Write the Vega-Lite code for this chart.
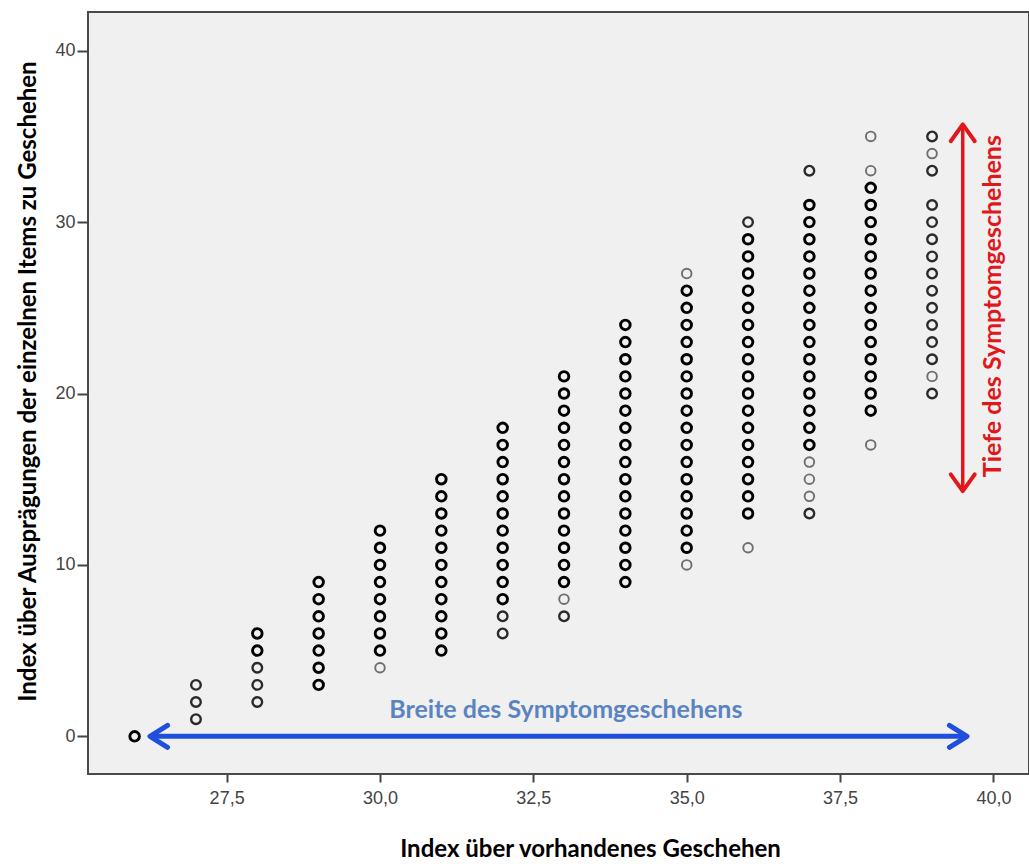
{
  "$schema": "https://vega.github.io/schema/vega-lite/v6.json",
  "width": 941,
  "height": 762,
  "autosize": {"type": "none"},
  "padding": {"left": 88, "top": 12, "right": 0, "bottom": 90},
  "background": "white",
  "config": {"view": {"fill": "#f0f0f0", "stroke": "#4a4a4a", "strokeWidth": 2}},
  "datasets": {
    "points": [
      {"x": 26, "y": 0, "n": 3},
      {"x": 27, "y": 1, "n": 2}, {"x": 27, "y": 2, "n": 2}, {"x": 27, "y": 3, "n": 2},
      {"x": 28, "y": 2, "n": 2}, {"x": 28, "y": 3, "n": 2}, {"x": 28, "y": 4, "n": 2}, {"x": 28, "y": 5, "n": 3}, {"x": 28, "y": 6, "n": 3},
      {"x": 29, "y": 3, "n": 3}, {"x": 29, "y": 4, "n": 3}, {"x": 29, "y": 5, "n": 3}, {"x": 29, "y": 6, "n": 3}, {"x": 29, "y": 7, "n": 3}, {"x": 29, "y": 8, "n": 3}, {"x": 29, "y": 9, "n": 3},
      {"x": 30, "y": 4, "n": 1}, {"x": 30, "y": 5, "n": 3}, {"x": 30, "y": 6, "n": 3}, {"x": 30, "y": 7, "n": 3}, {"x": 30, "y": 8, "n": 3}, {"x": 30, "y": 9, "n": 3}, {"x": 30, "y": 10, "n": 3}, {"x": 30, "y": 11, "n": 3}, {"x": 30, "y": 12, "n": 3},
      {"x": 31, "y": 5, "n": 3}, {"x": 31, "y": 6, "n": 3}, {"x": 31, "y": 7, "n": 3}, {"x": 31, "y": 8, "n": 3}, {"x": 31, "y": 9, "n": 3}, {"x": 31, "y": 10, "n": 3}, {"x": 31, "y": 11, "n": 3}, {"x": 31, "y": 12, "n": 3}, {"x": 31, "y": 13, "n": 3}, {"x": 31, "y": 14, "n": 3}, {"x": 31, "y": 15, "n": 3},
      {"x": 32, "y": 6, "n": 2}, {"x": 32, "y": 7, "n": 2}, {"x": 32, "y": 8, "n": 3}, {"x": 32, "y": 9, "n": 3}, {"x": 32, "y": 10, "n": 3}, {"x": 32, "y": 11, "n": 3}, {"x": 32, "y": 12, "n": 3}, {"x": 32, "y": 13, "n": 3}, {"x": 32, "y": 14, "n": 3}, {"x": 32, "y": 15, "n": 3}, {"x": 32, "y": 16, "n": 3}, {"x": 32, "y": 17, "n": 3}, {"x": 32, "y": 18, "n": 3},
      {"x": 33, "y": 7, "n": 2}, {"x": 33, "y": 8, "n": 1}, {"x": 33, "y": 9, "n": 3}, {"x": 33, "y": 10, "n": 3}, {"x": 33, "y": 11, "n": 3}, {"x": 33, "y": 12, "n": 3}, {"x": 33, "y": 13, "n": 3}, {"x": 33, "y": 14, "n": 3}, {"x": 33, "y": 15, "n": 3}, {"x": 33, "y": 16, "n": 3}, {"x": 33, "y": 17, "n": 3}, {"x": 33, "y": 18, "n": 3}, {"x": 33, "y": 19, "n": 3}, {"x": 33, "y": 20, "n": 3}, {"x": 33, "y": 21, "n": 3},
      {"x": 34, "y": 9, "n": 3}, {"x": 34, "y": 10, "n": 3}, {"x": 34, "y": 11, "n": 3}, {"x": 34, "y": 12, "n": 3}, {"x": 34, "y": 13, "n": 3}, {"x": 34, "y": 14, "n": 3}, {"x": 34, "y": 15, "n": 3}, {"x": 34, "y": 16, "n": 3}, {"x": 34, "y": 17, "n": 3}, {"x": 34, "y": 18, "n": 3}, {"x": 34, "y": 19, "n": 3}, {"x": 34, "y": 20, "n": 3}, {"x": 34, "y": 21, "n": 3}, {"x": 34, "y": 22, "n": 3}, {"x": 34, "y": 23, "n": 3}, {"x": 34, "y": 24, "n": 3},
      {"x": 35, "y": 10, "n": 1}, {"x": 35, "y": 11, "n": 3}, {"x": 35, "y": 12, "n": 3}, {"x": 35, "y": 13, "n": 3}, {"x": 35, "y": 14, "n": 3}, {"x": 35, "y": 15, "n": 3}, {"x": 35, "y": 16, "n": 3}, {"x": 35, "y": 17, "n": 3}, {"x": 35, "y": 18, "n": 3}, {"x": 35, "y": 19, "n": 3}, {"x": 35, "y": 20, "n": 3}, {"x": 35, "y": 21, "n": 3}, {"x": 35, "y": 22, "n": 3}, {"x": 35, "y": 23, "n": 3}, {"x": 35, "y": 24, "n": 3}, {"x": 35, "y": 25, "n": 3}, {"x": 35, "y": 26, "n": 3}, {"x": 35, "y": 27, "n": 1},
      {"x": 36, "y": 11, "n": 1}, {"x": 36, "y": 13, "n": 3}, {"x": 36, "y": 14, "n": 3}, {"x": 36, "y": 15, "n": 3}, {"x": 36, "y": 16, "n": 3}, {"x": 36, "y": 17, "n": 3}, {"x": 36, "y": 18, "n": 3}, {"x": 36, "y": 19, "n": 3}, {"x": 36, "y": 20, "n": 3}, {"x": 36, "y": 21, "n": 3}, {"x": 36, "y": 22, "n": 3}, {"x": 36, "y": 23, "n": 3}, {"x": 36, "y": 24, "n": 3}, {"x": 36, "y": 25, "n": 3}, {"x": 36, "y": 26, "n": 3}, {"x": 36, "y": 27, "n": 3}, {"x": 36, "y": 28, "n": 3}, {"x": 36, "y": 29, "n": 3}, {"x": 36, "y": 30, "n": 2},
      {"x": 37, "y": 13, "n": 2}, {"x": 37, "y": 14, "n": 1}, {"x": 37, "y": 15, "n": 1}, {"x": 37, "y": 16, "n": 1}, {"x": 37, "y": 17, "n": 3}, {"x": 37, "y": 18, "n": 3}, {"x": 37, "y": 19, "n": 3}, {"x": 37, "y": 20, "n": 3}, {"x": 37, "y": 21, "n": 3}, {"x": 37, "y": 22, "n": 3}, {"x": 37, "y": 23, "n": 3}, {"x": 37, "y": 24, "n": 3}, {"x": 37, "y": 25, "n": 3}, {"x": 37, "y": 26, "n": 3}, {"x": 37, "y": 27, "n": 3}, {"x": 37, "y": 28, "n": 3}, {"x": 37, "y": 29, "n": 3}, {"x": 37, "y": 30, "n": 3}, {"x": 37, "y": 31, "n": 3}, {"x": 37, "y": 33, "n": 2},
      {"x": 38, "y": 17, "n": 1}, {"x": 38, "y": 19, "n": 3}, {"x": 38, "y": 20, "n": 3}, {"x": 38, "y": 21, "n": 3}, {"x": 38, "y": 22, "n": 3}, {"x": 38, "y": 23, "n": 3}, {"x": 38, "y": 24, "n": 3}, {"x": 38, "y": 25, "n": 3}, {"x": 38, "y": 26, "n": 3}, {"x": 38, "y": 27, "n": 3}, {"x": 38, "y": 28, "n": 3}, {"x": 38, "y": 29, "n": 3}, {"x": 38, "y": 30, "n": 3}, {"x": 38, "y": 31, "n": 3}, {"x": 38, "y": 32, "n": 3}, {"x": 38, "y": 33, "n": 1}, {"x": 38, "y": 35, "n": 1},
      {"x": 39, "y": 20, "n": 2}, {"x": 39, "y": 21, "n": 1}, {"x": 39, "y": 22, "n": 2}, {"x": 39, "y": 23, "n": 2}, {"x": 39, "y": 24, "n": 2}, {"x": 39, "y": 25, "n": 2}, {"x": 39, "y": 26, "n": 2}, {"x": 39, "y": 27, "n": 2}, {"x": 39, "y": 28, "n": 2}, {"x": 39, "y": 29, "n": 2}, {"x": 39, "y": 30, "n": 2}, {"x": 39, "y": 31, "n": 2}, {"x": 39, "y": 33, "n": 2}, {"x": 39, "y": 34, "n": 1}, {"x": 39, "y": 35, "n": 2}
    ]
  },
  "layer": [
    {
      "data": {"name": "points"},
      "mark": {"type": "point", "shape": "circle", "filled": false, "size": 92, "opacity": 1},
      "encoding": {
        "x": {
          "field": "x", "type": "quantitative",
          "scale": {"domain": [25.24, 40.58], "nice": false, "zero": false},
          "axis": {
            "title": "Index über vorhandenes Geschehen",
            "values": [27.5, 30, 32.5, 35, 37.5, 40],
            "labelExpr": "replace(format(datum.value, '.1f'), '.', ',')",
            "grid": false, "domain": false,
            "tickColor": "#444444", "tickWidth": 2, "tickSize": 8,
            "labelFont": "Liberation Sans", "labelFontSize": 18, "labelColor": "#444444", "labelPadding": 7,
            "titleFont": "Lato", "titleFontSize": 24, "titleFontWeight": "bold", "titleColor": "#000000",
            "titlePadding": 30, "titleX": 502
          }
        },
        "y": {
          "field": "y", "type": "quantitative",
          "scale": {"domain": [-2.2, 42.26], "nice": false, "zero": false},
          "axis": {
            "title": "Index über Ausprägungen der einzelnen Items zu Geschehen",
            "values": [0, 10, 20, 30, 40],
            "format": "d",
            "grid": false, "domain": false,
            "tickColor": "#444444", "tickWidth": 2, "tickSize": 11,
            "labelFont": "Liberation Sans", "labelFontSize": 18, "labelColor": "#444444", "labelPadding": 2,
            "titleFont": "Lato", "titleFontSize": 24, "titleFontWeight": "bold", "titleColor": "#000000",
            "titlePadding": 14, "titleY": 369
          }
        },
        "color": {"field": "n", "type": "ordinal", "scale": {"domain": [1, 2, 3], "range": ["#6e6e6e", "#2a2a2a", "#000000"]}, "legend": null},
        "strokeWidth": {"field": "n", "type": "quantitative", "scale": {"domain": [1, 3], "range": [1.9, 2.9]}, "legend": null}
      }
    },
    {
      "data": {"values": [{}]},
      "mark": {"type": "rule", "color": "#1f4fdc", "strokeWidth": 5, "strokeCap": "round"},
      "encoding": {
        "x": {"datum": 26.3, "type": "quantitative"},
        "x2": {"datum": 39.53},
        "y": {"datum": 0, "type": "quantitative"}
      }
    },
    {
      "data": {"values": [{}]},
      "mark": {"type": "point", "shape": "M 1.6 -1 L 0 0 L 1.6 1", "filled": false, "size": 484, "color": "#1f4fdc", "strokeWidth": 5, "strokeCap": "round", "strokeJoin": "round", "opacity": 1},
      "encoding": {
        "x": {"datum": 26.25, "type": "quantitative"},
        "y": {"datum": 0, "type": "quantitative"}
      }
    },
    {
      "data": {"values": [{}]},
      "mark": {"type": "point", "shape": "M -1.6 -1 L 0 0 L -1.6 1", "filled": false, "size": 484, "color": "#1f4fdc", "strokeWidth": 5, "strokeCap": "round", "strokeJoin": "round", "opacity": 1},
      "encoding": {
        "x": {"datum": 39.57, "type": "quantitative"},
        "y": {"datum": 0, "type": "quantitative"}
      }
    },
    {
      "data": {"values": [{}]},
      "mark": {"type": "rule", "color": "#e0181b", "strokeWidth": 3.5},
      "encoding": {
        "x": {"datum": 39.5, "type": "quantitative"},
        "y": {"datum": 14.35, "type": "quantitative"},
        "y2": {"datum": 35.65}
      }
    },
    {
      "data": {"values": [{}]},
      "mark": {"type": "point", "shape": "M -1 1.4 L 0 0 L 1 1.4", "filled": false, "size": 576, "color": "#e0181b", "strokeWidth": 4, "strokeCap": "round", "strokeJoin": "round", "opacity": 1},
      "encoding": {
        "x": {"datum": 39.5, "type": "quantitative"},
        "y": {"datum": 35.7, "type": "quantitative"}
      }
    },
    {
      "data": {"values": [{}]},
      "mark": {"type": "point", "shape": "M -1 -1.4 L 0 0 L 1 -1.4", "filled": false, "size": 576, "color": "#e0181b", "strokeWidth": 4, "strokeCap": "round", "strokeJoin": "round", "opacity": 1},
      "encoding": {
        "x": {"datum": 39.5, "type": "quantitative"},
        "y": {"datum": 14.3, "type": "quantitative"}
      }
    },
    {
      "data": {"values": [{}]},
      "mark": {"type": "text", "text": "Breite des Symptomgeschehens", "font": "Lato", "fontSize": 25, "fontWeight": "bold", "color": "#5a84c0", "align": "center", "baseline": "middle"},
      "encoding": {
        "x": {"datum": 33.03, "type": "quantitative"},
        "y": {"datum": 1.56, "type": "quantitative"}
      }
    },
    {
      "data": {"values": [{}]},
      "mark": {"type": "text", "text": "Tiefe des Symptomgeschehens", "font": "Lato", "fontSize": 25, "fontWeight": "bold", "color": "#e0181b", "align": "center", "baseline": "middle", "angle": 270},
      "encoding": {
        "x": {"datum": 40.0, "type": "quantitative"},
        "y": {"datum": 25.1, "type": "quantitative"}
      }
    }
  ]
}
